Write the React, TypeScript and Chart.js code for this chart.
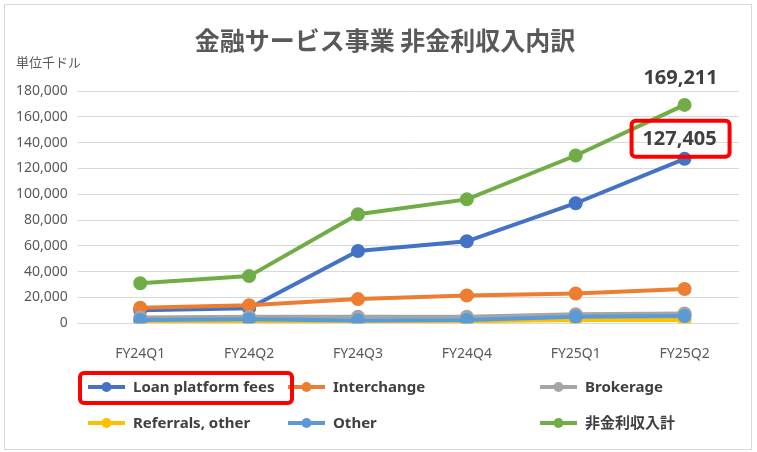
import React, { useEffect, useRef } from "react";
import { Chart, registerables } from "chart.js";
Chart.register(...registerables);

const categories = ["FY24Q1", "FY24Q2", "FY24Q3", "FY24Q4", "FY25Q1", "FY25Q2"];
const loanPlatformFees = [10000, 11500, 56000, 63500, 93000, 127405];
const interchange = [12000, 14000, 18700, 21500, 23000, 26500];
const brokerage = [4500, 5000, 5000, 5000, 7000, 7500];
const referralsOther = [1500, 1500, 1500, 1500, 2500, 2500];
const other = [2500, 3000, 2000, 2500, 5000, 5500];
const totalNonInterest = [31000, 36500, 84500, 96000, 130000, 169211];

const seriesNames = ["Loan platform fees", "Interchange", "Brokerage", "Referrals, other", "Other", "非金利収入計"];
const colors = ["#4472C4", "#ED7D31", "#A5A5A5", "#FFC000", "#5B9BD5", "#70AD47"];
const seriesValues = [loanPlatformFees, interchange, brokerage, referralsOther, other, totalNonInterest];

const FONT = "'Noto Sans', 'Noto Sans CJK JP', sans-serif";

export default function App() {
  const ref = useRef<HTMLCanvasElement>(null);
  useEffect(() => {
    document.body.style.margin = "0";
    const overlay = {
      id: "overlay",
      afterDraw(chart: any) {
        const ctx = chart.ctx;
        ctx.save();
        ctx.fillStyle = "#595959";
        ctx.font = `bold 25px 'Noto Sans CJK JP', sans-serif`;
        ctx.textAlign = "center";
        ctx.textBaseline = "middle";
        ctx.fillText("金融サービス事業 非金利収入内訳", 385, 40);
        ctx.font = `13px 'Noto Sans CJK JP', sans-serif`;
        ctx.textAlign = "left";
        ctx.fillText("単位千ドル", 16, 62);
        const mTot = chart.getDatasetMeta(5).data[5];
        const mLoan = chart.getDatasetMeta(0).data[5];
        ctx.font = `bold 20px ${FONT}`;
        ctx.textAlign = "center";
        ctx.fillStyle = "#404040";
        ctx.fillText("169,211", mTot.x - 4, mTot.y - 27);
        ctx.fillText("127,405", mLoan.x - 5, mLoan.y - 20);
        ctx.strokeStyle = "#FF0000";
        ctx.lineWidth = 4;
        ctx.beginPath();
        (ctx as any).roundRect(mLoan.x - 53, mLoan.y - 38, 98, 36, 4);
        ctx.stroke();
        const items = [
          [88, 387], [288, 387], [540, 387],
          [88, 423], [288, 423], [540, 423],
        ];
        ctx.font = `bold 15px ${FONT}`;
        ctx.textAlign = "left";
        items.forEach(([x, y], i) => {
          ctx.strokeStyle = colors[i];
          ctx.lineWidth = 4;
          ctx.beginPath();
          ctx.moveTo(x, y);
          ctx.lineTo(x + 37, y);
          ctx.stroke();
          ctx.fillStyle = colors[i];
          ctx.beginPath();
          ctx.arc(x + 18.5, y, 5, 0, Math.PI * 2);
          ctx.fill();
          ctx.fillStyle = "#404040";
          ctx.fillText(seriesNames[i], x + 45, y + 1);
        });
        ctx.strokeStyle = "#FF0000";
        ctx.lineWidth = 4;
        ctx.beginPath();
        (ctx as any).roundRect(80, 373, 212, 30, 4);
        ctx.stroke();
        ctx.restore();
      },
    };
    const chart = new Chart(ref.current!, {
      type: "line",
      data: {
        labels: categories,
        datasets: seriesValues.map((v, i) => ({
          label: seriesNames[i],
          data: v,
          borderColor: colors[i],
          backgroundColor: colors[i],
          borderWidth: 4,
          pointRadius: 5,
          pointHoverRadius: 5,
          tension: 0,
          order: i === 5 ? 10 : 6 - i,
        })),
      },
      options: {
        animation: false,
        responsive: false,
        layout: { padding: { top: 91, bottom: 76, right: 18, left: 6 } },
        plugins: { legend: { display: false }, tooltip: { enabled: false } },
        scales: {
          x: {
            offset: true,
            grid: { display: false },
            border: { display: false },
            ticks: { color: "#595959", font: { size: 14, family: FONT }, padding: 14 },
          },
          y: {
            min: 0,
            max: 180000,
            ticks: { stepSize: 20000, color: "#595959", font: { size: 14, family: FONT }, padding: 10,
              callback: (v: any) => Number(v).toLocaleString("en-US") },
            grid: { color: "#D9D9D9", lineWidth: 1 },
            border: { display: false },
          },
        },
      },
      plugins: [overlay],
    });
    return () => chart.destroy();
  }, []);
  return (
    <div style={{ position: "relative", width: 757, height: 452, background: "#fff" }}>
      <div style={{ position: "absolute", left: 4, top: 4, width: 746, height: 444, border: "1px solid #D9D9D9" }} />
      <canvas ref={ref} width={757} height={452} style={{ position: "absolute", left: 0, top: 0 }} />
    </div>
  );
}
